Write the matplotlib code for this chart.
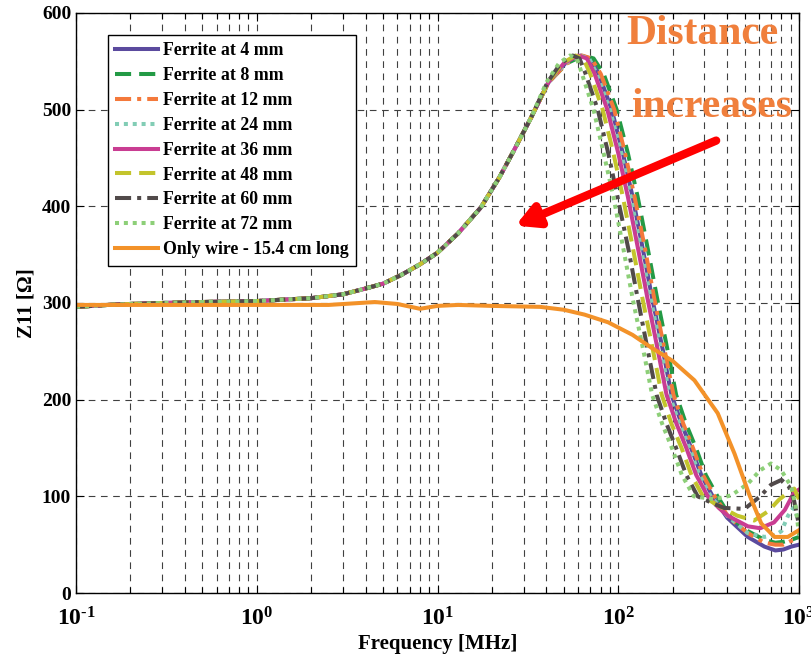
import numpy as np
import matplotlib
matplotlib.use("Agg")
import matplotlib.pyplot as plt
from matplotlib.ticker import LogLocator, FixedLocator, NullFormatter

plt.rcParams['font.family'] = ['Liberation Serif', 'DejaVu Serif']
plt.rcParams['font.weight'] = 'bold'
plt.rcParams['mathtext.fontset'] = 'custom'
plt.rcParams['mathtext.rm'] = 'Liberation Serif:bold'
plt.rcParams['mathtext.it'] = 'Liberation Serif:bold'
plt.rcParams['mathtext.bf'] = 'Liberation Serif:bold'

# common rising part of all ferrite curves
freq_rise = [0.1, 0.15, 0.2, 0.3, 0.5, 1, 2, 3, 4, 5, 6.3, 8, 10, 13, 17.4, 22, 26.5, 33]
z_rise = [296, 298, 299, 300, 301, 302, 305, 309, 315, 320, 329, 340, 352, 372, 399, 430, 458, 492]

# falling part: levels shared, frequency differs per curve
z_fall = [528, 548, 556, 553, 537, 500, 455, 410, 355, 305, 250, 205, 175, 150, 122, 100]
f_fall_4 = [41, 51, 62, 70, 78, 92, 106, 120, 137, 154, 177, 197, 224, 253, 288, 333]
f_fall_8 = [41, 52, 64, 73, 83, 98, 113, 128, 146, 164, 188, 209, 237, 269, 305, 354]
f_fall_12 = [41, 52, 63, 71, 80, 95, 109, 123, 141, 158, 181, 202, 229, 259, 294, 341]
f_fall_24 = [41, 51, 61, 69, 76, 90, 104, 117, 134, 151, 173, 192, 218, 248, 281, 325]
f_fall_36 = [41, 50, 60, 67, 74, 87, 100, 113, 129, 145, 166, 185, 210, 238, 270, 313]
f_fall_48 = [41, 49, 58, 64, 70, 82, 94, 106, 121, 136, 156, 174, 197, 224, 254, 294]
f_fall_60 = [40.5, 48, 56, 61, 66, 77, 88, 99, 114, 128, 146, 163, 185, 209, 238, 275]
f_fall_72 = [40, 47, 54, 59, 63, 73, 83, 94, 107, 120, 138, 154, 175, 198, 225, 262]

# tail above ~300 MHz
f_tail_4 = [400, 521, 644, 740, 820, 906, 1000]
z_tail_4 = [78, 58, 48, 44, 45, 48, 50]
f_tail_8 = [420, 521, 644, 740, 820, 906, 1000]
z_tail_8 = [78, 64, 55, 52, 53, 55, 58]
f_tail_12 = [410, 521, 644, 740, 820, 906, 1000]
z_tail_12 = [78, 62, 52, 50, 50, 54, 56]
f_tail_24 = [400, 521, 644, 740, 800, 870, 930, 1000]
z_tail_24 = [80, 62, 58, 60, 64, 80, 88, 75]
f_tail_36 = [360, 403, 521, 610, 727, 835, 940, 1000]
z_tail_36 = [88, 80, 69, 67, 73, 86, 104, 107]
f_tail_48 = [360, 455, 565, 680, 770, 870, 940, 1000]
z_tail_48 = [90, 80, 75, 85, 96, 104, 108, 97]
f_tail_60 = [341, 385, 500, 610, 700, 800, 880, 940, 1000]
z_tail_60 = [92, 88, 87, 100, 112, 117, 110, 95, 70]
f_tail_72 = [341, 422, 521, 610, 700, 797, 906, 960, 1000]
z_tail_72 = [97, 101, 113, 127, 134, 127, 110, 89, 60]

# only wire
f_wire = [0.1, 0.5, 1, 2.5, 4.5, 6, 8, 10, 13, 20, 37, 50, 65, 88, 120, 152, 200, 264,
          355, 440, 530, 618, 732, 867, 1000]
z_wire = [298, 298, 298, 298, 301, 299, 294, 297, 298, 297, 296, 293, 288, 280, 267, 254,
          240, 220, 186, 144, 102, 72, 58, 58, 65]

labels = ["Ferrite at 4 mm", "Ferrite at 8 mm", "Ferrite at 12 mm", "Ferrite at 24 mm",
          "Ferrite at 36 mm", "Ferrite at 48 mm", "Ferrite at 60 mm", "Ferrite at 72 mm",
          "Only wire - 15.4 cm long"]
colors = ["#5b4a9e", "#239a45", "#f4793b", "#82cdb5", "#c93d92", "#c3c42c", "#514a4a",
          "#8dcf78", "#f39229"]
styles = ["-", (0, (4, 2)), (0, (4, 1.5, 1, 1.5)), (0, (1, 1.2)), "-", (0, (4, 2)),
          (0, (4, 1.5, 1, 1.5)), (0, (1, 1.2)), "-"]

fall_f = [f_fall_4, f_fall_8, f_fall_12, f_fall_24, f_fall_36, f_fall_48, f_fall_60, f_fall_72]
tail_f = [f_tail_4, f_tail_8, f_tail_12, f_tail_24, f_tail_36, f_tail_48, f_tail_60, f_tail_72]
tail_z = [z_tail_4, z_tail_8, z_tail_12, z_tail_24, z_tail_36, z_tail_48, z_tail_60, z_tail_72]

fig = plt.figure(figsize=(8.12, 6.66), dpi=100)
ax = fig.add_axes([0.0936, 0.1096, 0.8904, 0.8709])

for i in range(8):
    f = freq_rise + fall_f[i] + tail_f[i]
    z = z_rise + z_fall + tail_z[i]
    ax.plot(f, z, color=colors[i], linestyle=styles[i], lw=2.9, label=labels[i])
ax.plot(f_wire, z_wire, color=colors[8], linestyle=styles[8], lw=2.9, label=labels[8])

ax.set_xscale('log')
ax.set_xlim(0.1, 1000)
ax.set_ylim(0, 600)
ax.set_yticks([0, 100, 200, 300, 400, 500, 600])
ax.xaxis.set_major_locator(FixedLocator([0.1, 1, 10, 100, 1000]))
ax.set_xticklabels([r'$10^{\text{-1}}$', r'$10^{0}$', r'$10^{1}$', r'$10^{2}$', r'$10^{3}$'])
ax.xaxis.set_minor_locator(LogLocator(base=10, subs=np.arange(2, 10)))
ax.xaxis.set_minor_formatter(NullFormatter())

gridstyle = dict(color='0.25', linestyle=(0, (6, 5)), lw=0.8)
ax.grid(True, which='major', axis='both', **gridstyle)
ax.grid(True, which='minor', axis='x', **gridstyle)

ax.tick_params(which='both', direction='in', top=True, right=True, labelsize=14, width=0.8)
ax.tick_params(which='major', length=6)
ax.tick_params(which='minor', length=4)
ax.tick_params(axis='x', pad=10, labelsize=17)
for sp in ax.spines.values():
    sp.set_linewidth(1.0)

ax.set_xlabel("Frequency [MHz]", fontsize=15, fontweight='bold', labelpad=3)
ax.set_ylabel("Z11 [Ω]", fontsize=15, fontweight='bold', labelpad=4)

leg = ax.legend(loc='upper left', bbox_to_anchor=(0.044, 0.962), fontsize=12.8,
                handlelength=2.4, labelspacing=0.44, handletextpad=0.3,
                borderpad=0.42, borderaxespad=0, fancybox=False, framealpha=1,
                edgecolor='black')
leg.get_frame().set_linewidth(1.0)

ax.text(0.867, 0.963, "Distance", transform=ax.transAxes, fontsize=30, fontweight='bold',
        color='#f07f3c', ha='center', va='center')
ax.text(0.879, 0.838, "increases", transform=ax.transAxes, fontsize=30, fontweight='bold',
        color='#f07f3c', ha='center', va='center')
ax.annotate("", xy=(27, 380), xytext=(348, 468),
            arrowprops=dict(arrowstyle='-|>,head_length=1.3,head_width=0.7', color='red',
                            lw=6, shrinkA=0, shrinkB=0))

fig.savefig("out.png", dpi=100)
